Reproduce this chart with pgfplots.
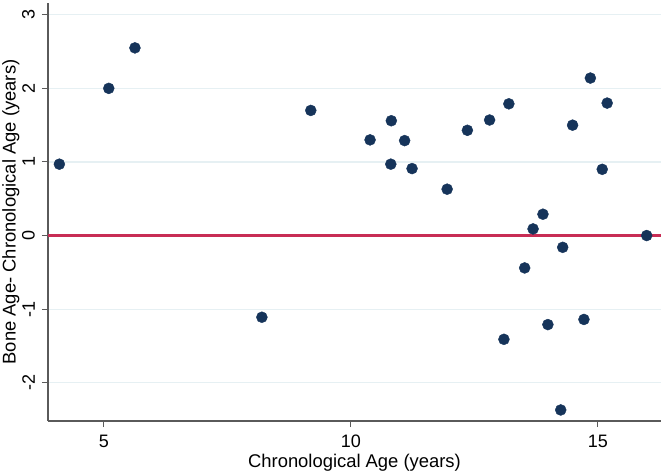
\documentclass[border=0pt]{standalone}
\usepackage{pgfplots}
\pgfplotsset{compat=1.18}
\usepackage{fontspec}
\setmainfont{Liberation Sans}
\definecolor{navy}{RGB}{22,52,90}
\definecolor{redline}{RGB}{200,45,85}
\definecolor{gridc}{RGB}{230,240,243}
\definecolor{axc}{RGB}{90,90,90}
\begin{document}
\begin{tikzpicture}
\path[use as bounding box] (0,0) rectangle (661pt,471pt);
\begin{axis}[
  at={(48pt,50pt)}, anchor=south west,
  scale only axis, width=613pt, height=418pt,
  xmin=3.87, xmax=16.28, ymin=-2.52, ymax=3.16,
  axis x line*=bottom, axis y line*=left,
  axis line style={axc, line width=1.1pt},
  xtick={5,10,15}, ytick={-2,-1,0,1,2,3},
  yticklabels={-2,-1,0,1,2,3},
  xticklabels={5,10,15},
  tick align=outside, major tick length=6pt,
  tick style={axc, line width=1pt},
  ymajorgrids, grid style={gridc, line width=1.2pt},
  ticklabel style={font=\fontsize{18}{21}\selectfont},
  yticklabel style={rotate=90, anchor=south, inner sep=7pt},
  xticklabel style={inner sep=8pt},
  label style={font=\fontsize{18.4}{22}\selectfont},
  xlabel={Chronological Age (years)},
  ylabel={Bone Age- Chronological Age (years)},
  xlabel style={yshift=5pt},
  ylabel style={yshift=-8pt},
  clip=false,
]
\addplot[redline, line width=2.2pt, mark=none, forget plot] table[row sep=\\] {x y\\ 3.87 0\\ 16.28 0\\};
\addplot[only marks, mark=*, mark size=5.5pt, mark options={fill=navy, draw=navy}] coordinates {
(4.10,0.97) (5.10,2.00) (5.63,2.55) (8.20,-1.11) (9.19,1.70)
(10.39,1.30) (10.82,1.56) (11.09,1.29) (10.81,0.97) (11.24,0.91)
(11.95,0.63) (12.36,1.43) (12.81,1.57) (13.20,1.79) (14.49,1.50)
(14.85,2.14) (15.19,1.80) (15.09,0.90) (13.89,0.29) (13.69,0.09)
(14.29,-0.16) (15.99,0.00) (13.52,-0.44) (13.10,-1.41) (13.99,-1.21)
(14.72,-1.14) (14.25,-2.37)
};
\end{axis}
\end{tikzpicture}
\end{document}
